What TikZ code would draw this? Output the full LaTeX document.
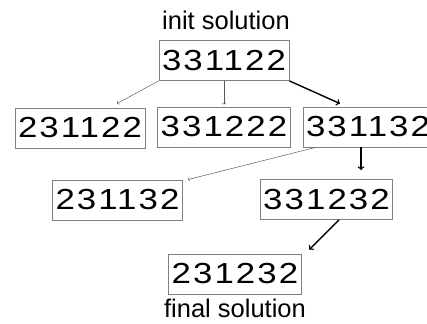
\documentclass[tikz,border=0pt]{standalone}
\usepackage{fontspec}
\setmainfont{Liberation Sans}
\newfontfamily\seqfont[LetterSpace=6]{Liberation Sans}
\usepackage{graphicx}
\usetikzlibrary{arrows}

\tikzset{
  sol/.style = {draw=gray, line width=0.8pt, inner xsep=3pt, inner ysep=0pt, minimum height=40pt, font=\seqfont\fontsize{29}{29}\selectfont},
  caption/.style = {font=\fontsize{25.5}{26}\selectfont},
  weak/.style = {-to, draw=gray!70!black, line width=0.5pt},
  strong/.style = {-to, line width=1.4pt}
}
\newcommand{\seq}[1]{\scalebox{1.2}[1]{#1}}

\begin{document}
\begin{tikzpicture}[x=1pt, y=-1pt]
    \useasboundingbox (0,0) rectangle (427,323);
    \node[caption] at (226, 20) (init) {init solution};
    \node[sol] at (224, 60.5) (s0) {\seq{331122}};

    \node[sol] at (80, 128) (a) {\seq{231122}};
    \node[sol] at (224, 127) (b) {\seq{331222}};
    \node[sol] at (368, 127) (c) {\seq{331132}};

    \node[sol] at (117.5, 200) (d) {\seq{231132}};
    \node[sol] at (326.5, 199.5) (e) {\seq{331232}};

    \node[sol] at (235, 274) (f) {\seq{231232}};
    \node[caption] at (235, 308) (final) {final solution};

    \draw[weak] (s0.south west) -- ([xshift=37pt, yshift=4pt]a.north);
    \draw[weak, shorten >=2pt] (s0.south) -- (b.north);
    \draw[strong] (s0.south east) -- ([xshift=-28pt, yshift=3pt]c.north);

    \draw[weak] ([xshift=13pt]c.south west) -- ([xshift=5pt]d.north east);
    \draw[strong] ([xshift=-7pt]c.south) -- ([xshift=34.5pt, yshift=9pt]e.north);

    \draw[strong] ([xshift=12.5pt]e.south) -- ([xshift=7.5pt, yshift=4pt]f.north east);
\end{tikzpicture}
\end{document}
